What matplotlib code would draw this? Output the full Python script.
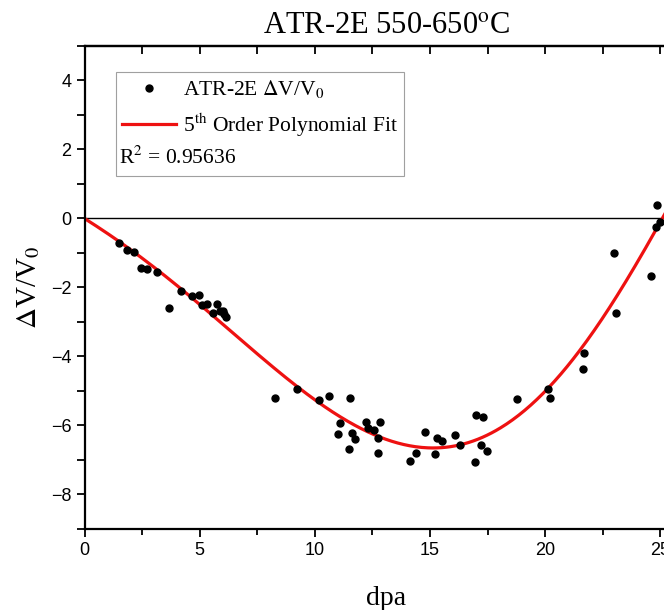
import numpy as np
import matplotlib
matplotlib.use('Agg')
import matplotlib.pyplot as plt
from matplotlib.lines import Line2D
from matplotlib.ticker import MultipleLocator

# mesures ATR-2E (dpa, variation de volume en %)
dpa = [1.51, 1.85, 2.15, 2.47, 2.73, 3.16, 3.65, 4.18, 4.67, 4.97,
       5.10, 5.30, 5.59, 5.74, 5.88, 6.00, 6.06, 6.14, 8.26, 9.24,
       10.18, 10.63, 11.02, 11.11, 11.46, 11.54, 11.60, 11.76, 12.21, 12.32,
       12.56, 12.72, 12.76, 12.83, 14.12, 14.41, 14.76, 15.22, 15.28, 15.51,
       16.09, 16.28, 16.93, 16.99, 17.20, 17.30, 17.49, 18.77, 20.10, 20.21,
       21.63, 21.68, 22.99, 23.06, 24.57, 24.79, 24.86, 24.99]
dV = [-0.72, -0.91, -0.96, -1.43, -1.46, -1.55, -2.58, -2.10, -2.25, -2.22,
      -2.50, -2.48, -2.74, -2.48, -2.68, -2.67, -2.77, -2.86, -5.19, -4.95,
      -5.26, -5.15, -6.24, -5.94, -6.68, -5.21, -6.22, -6.40, -5.89, -6.06,
      -6.13, -6.80, -6.37, -5.89, -7.02, -6.81, -6.20, -6.82, -6.36, -6.46,
      -6.27, -6.56, -7.07, -5.70, -6.57, -5.76, -6.74, -5.23, -4.94, -5.21,
      -4.35, -3.91, -1.01, -2.73, -1.66, -0.24, 0.40, -0.09]
r2_txt = '0.95636'

# ajustement polynomial d'ordre 5 passant par l'origine
x = np.array(dpa)
A = np.column_stack([x**k for k in range(1, 6)])
coefs, *_ = np.linalg.lstsq(A, np.array(dV), rcond=None)
xFit = np.linspace(0, 26.2, 400)
yFit = sum(c * xFit**k for k, c in zip(range(1, 6), coefs))

plt.rcParams['font.family'] = 'Liberation Serif'
plt.rcParams['mathtext.fontset'] = 'stix'

fig = plt.figure(figsize=(6.64, 6.10), dpi=100)
ax = fig.add_axes([0.1273, 0.1328, 0.909, 0.7918])

ax.axhline(0, color='black', lw=1.0, zorder=1)
ax.plot(dpa, dV, 'o', color='black', ms=5, zorder=3)
ax.plot(xFit, yFit, '-', color='#ee1111', lw=2.3, zorder=2)

ax.set_xlim(0, 26.2)
ax.set_ylim(-9, 5)
ax.xaxis.set_major_locator(MultipleLocator(5))
ax.xaxis.set_minor_locator(MultipleLocator(2.5))
ax.yaxis.set_major_locator(MultipleLocator(2))
ax.yaxis.set_minor_locator(MultipleLocator(1))
ax.tick_params(which='both', direction='out', width=1.3, labelsize=13,
               labelfontfamily='Liberation Sans')
ax.tick_params(axis='x', which='major', length=6)
ax.tick_params(axis='x', which='minor', length=4)
ax.tick_params(axis='y', which='both', length=6)
for s in ax.spines.values():
    s.set_linewidth(1.6)

# graduations vers l'intérieur sur l'axe du haut
top = ax.secondary_xaxis('top')
top.xaxis.set_major_locator(MultipleLocator(2.5))
top.tick_params(direction='in', length=6, width=1.3, labeltop=False)
top.spines['top'].set_linewidth(1.6)

ax.set_title(r'ATR-2E 550-650$^\mathrm{o}$C', fontsize=22, pad=9)
ax.set_xlabel('dpa', fontsize=20, labelpad=19)
ax.set_ylabel(r'$\Delta$V/V$_0$', fontsize=21, labelpad=6)

handles = [Line2D([], [], ls='none', marker='o', color='black', ms=5),
           Line2D([], [], color='#ee1111', lw=2.3),
           Line2D([], [], ls='none')]
labels = [r'ATR-2E $\Delta$V/V$_0$', r'5$^\mathrm{th}$ Order Polynomial Fit', ' ']
leg = ax.legend(handles, labels, loc='upper left',
                bbox_to_anchor=(116 / 664, 1 - 72 / 610), bbox_transform=fig.transFigure,
                fontsize=15.5, frameon=True, fancybox=False, edgecolor='#888888',
                handlelength=2.5, handletextpad=0.3, borderpad=0.3,
                labelspacing=0.5, borderaxespad=0)
leg.get_frame().set_linewidth(0.8)
fig.text(119 / 664, 1 - 158 / 610, r'R$^2$ = ' + r2_txt, fontsize=15.5, va='center')

fig.savefig('out.png', dpi=100)
